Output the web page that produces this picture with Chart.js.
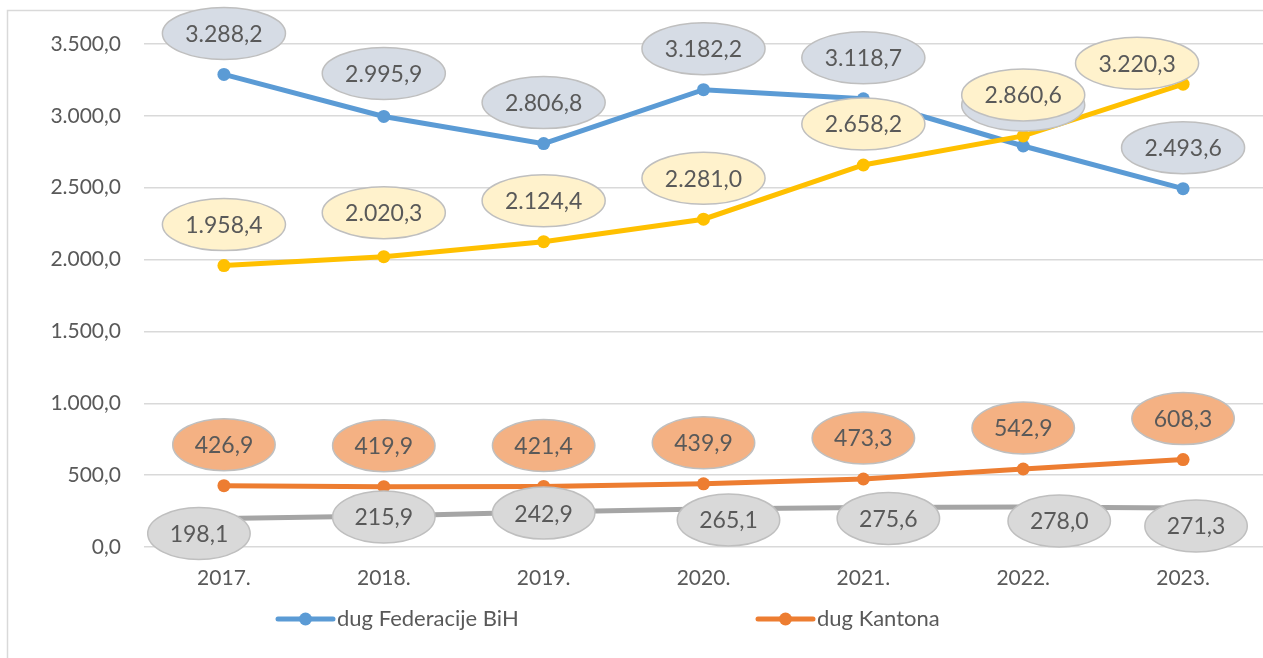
<!DOCTYPE html>
<html>
<head>
<meta charset="utf-8">
<script src="https://cdn.jsdelivr.net/npm/chart.js@4.4.1/dist/chart.umd.min.js"></script>
<style>
  html, body { margin: 0; padding: 0; background: #fff; overflow: hidden; }
  #debtChart { display: block; }
</style>
</head>
<body>
<canvas id="debtChart" width="1263" height="658"></canvas>
<script>
// =====================
// Data
// =====================
const years = ['2017.', '2018.', '2019.', '2020.', '2021.', '2022.', '2023.'];
const dugFederacije = [3288.2, 2995.9, 2806.8, 3182.2, 3118.7, 2790.3, 2493.6];
const dugKantona    = [426.9, 419.9, 421.4, 439.9, 473.3, 542.9, 608.3];
const dugOpcina     = [198.1, 215.9, 242.9, 265.1, 275.6, 278.0, 271.3];
const dugUkupniVanj = [1958.4, 2020.3, 2124.4, 2281.0, 2658.2, 2860.6, 3220.3];
const yTicks = [0, 500, 1000, 1500, 2000, 2500, 3000, 3500];

const FONT = 'Lato';
const TEXT = '#595959';

// label offsets from point centre (px), default is "above"
const ABOVE = [0, -41];
const labelOffsets = [
  [ABOVE, [0, -43], ABOVE, ABOVE, ABOVE, ABOVE, ABOVE],
  [ABOVE, ABOVE, ABOVE, ABOVE, ABOVE, ABOVE, ABOVE],
  [[-25, 15], [0, 1], [0, 1], [25, 11], [25, 11], [36, 14], [13, 18]],
  [ABOVE, [0, -44], ABOVE, ABOVE, ABOVE, ABOVE, [-46, -21]]
];
const labelFills = ['#D6DCE5', '#F4B183', '#D9D9D9', '#FFF2CC'];

function fmt(v) {
  const [i, d] = v.toFixed(1).split('.');
  return i.replace(/\B(?=(\d{3})+(?!\d))/g, '.') + ',' + d;
}

// =====================
// Plugins
// =====================
const frame = {
  id: 'frame',
  beforeDraw(chart) {
    const ctx = chart.ctx;
    ctx.save();
    ctx.strokeStyle = '#D9D9D9';
    ctx.lineWidth = 1.5;
    ctx.beginPath();
    ctx.moveTo(7.5, 700); ctx.lineTo(7.5, 10.5); ctx.lineTo(1300, 10.5);
    ctx.stroke();
    ctx.restore();
  }
};

const ellipseLabels = {
  id: 'ellipseLabels',
  afterDatasetsDraw(chart) {
    const ctx = chart.ctx;
    ctx.save();
    ctx.font = '23px ' + FONT;
    ctx.textAlign = 'center';
    ctx.textBaseline = 'middle';
    chart.data.datasets.forEach((ds, i) => {
      const meta = chart.getDatasetMeta(i);
      meta.data.forEach((pt, j) => {
        const off = labelOffsets[i][j];
        const cx = pt.x + off[0], cy = pt.y + off[1];
        const txt = fmt(ds.data[j]);
        const w = ctx.measureText(txt).width * 1.1 + 38;
        ctx.beginPath();
        ctx.ellipse(cx, cy, w / 2, 26, 0, 0, Math.PI * 2);
        ctx.fillStyle = labelFills[i];
        ctx.fill();
        ctx.lineWidth = 1.5;
        ctx.strokeStyle = '#BFBFBF';
        ctx.stroke();
        ctx.fillStyle = TEXT;
        ctx.fillText(txt, cx, cy + 1);
      });
    });
    ctx.restore();
  }
};

const bottomLegend = {
  id: 'bottomLegend',
  afterDraw(chart) {
    const ctx = chart.ctx;
    const items = [{ x: 278, ds: 0 }, { x: 758, ds: 1 }];
    const y = 619;
    ctx.save();
    ctx.font = '22px ' + FONT;
    ctx.textBaseline = 'middle';
    ctx.textAlign = 'left';
    items.forEach(it => {
      const ds = chart.data.datasets[it.ds];
      ctx.strokeStyle = ds.borderColor;
      ctx.lineWidth = 5;
      ctx.lineCap = 'round';
      ctx.beginPath();
      ctx.moveTo(it.x, y); ctx.lineTo(it.x + 55, y);
      ctx.stroke();
      ctx.fillStyle = ds.borderColor;
      ctx.beginPath();
      ctx.arc(it.x + 27.5, y, 6.5, 0, Math.PI * 2);
      ctx.fill();
      ctx.fillStyle = TEXT;
      ctx.fillText(ds.label, it.x + 59, y);
    });
    ctx.restore();
  }
};

// =====================
// Chart
// =====================
function lineSet(label, data, color, order, markers = true) {
  return {
    label, data, order,
    borderColor: color,
    backgroundColor: color,
    borderWidth: 5,
    tension: 0,
    pointRadius: markers ? 6.5 : 0,
    pointBorderWidth: 0,
    pointBackgroundColor: color,
    clip: false
  };
}

function drawChart() {
  const ctx = document.getElementById('debtChart');
  new Chart(ctx, {
    type: 'line',
    data: {
      labels: years,
      datasets: [
        lineSet('dug Federacije BiH', dugFederacije, '#5B9BD5', 1),
        lineSet('dug Kantona', dugKantona, '#ED7D31', 2),
        lineSet('dug općina i gradova', dugOpcina, '#A5A5A5', 3, false),
        lineSet('dug ukupno', dugUkupniVanj, '#FFC000', 0)
      ]
    },
    options: {
      responsive: false,
      animation: false,
      layout: { autoPadding: false, padding: { top: 44, left: 0, right: 0, bottom: 0 } },
      plugins: { legend: { display: false }, tooltip: { enabled: false } },
      scales: {
        x: {
          offset: true,
          grid: { display: false, drawTicks: false },
          border: { display: false },
          ticks: { color: TEXT, font: { family: FONT, size: 21 }, padding: 19, maxRotation: 0 },
          afterFit(scale) { scale.height = 111; }
        },
        y: {
          min: 0, max: 3500,
          afterBuildTicks(scale) { scale.ticks = yTicks.map(v => ({ value: v })); },
          grid: { color: '#D9D9D9', lineWidth: 1.5, drawTicks: false },
          border: { display: false },
          ticks: { color: TEXT, font: { family: FONT, size: 21 }, padding: 23, callback: v => fmt(v) },
          afterFit(scale) { scale.width = 144; }
        }
      }
    },
    plugins: [frame, ellipseLabels, bottomLegend]
  });
}

document.fonts.load('23px ' + FONT).then(drawChart, drawChart);
</script>
</body>
</html>
